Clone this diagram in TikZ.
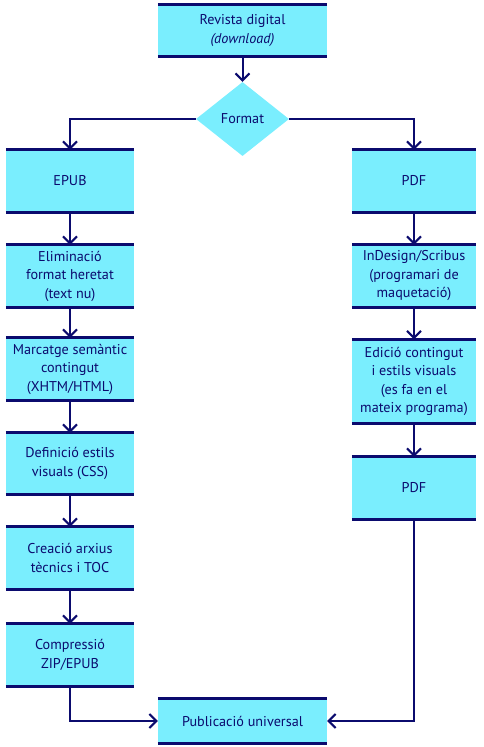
\documentclass[tikz,border=0pt]{standalone}
\usepackage{fontspec}
\setmainfont{PT Sans}
\usetikzlibrary{shapes.geometric,arrows.meta}
\definecolor{navy}{HTML}{0B0B6E}
\definecolor{boxfill}{HTML}{7AEEFE}
\tikzset{
  x=1pt, y=-1pt,
  box/.style={fill=boxfill, inner sep=0pt, align=center, text=navy,
    font=\fontsize{14.2}{18.5}\selectfont,
    append after command={(\tikzlastnode.north west) edge[line width=3pt, draw=navy] (\tikzlastnode.north east)
      (\tikzlastnode.south west) edge[line width=3pt, draw=navy] (\tikzlastnode.south east)}},
  lbox/.style={box, minimum width=128pt, minimum height=62pt},
  rbox/.style={box, minimum width=124pt, minimum height=62pt},
  conn/.style={draw=navy, line width=2pt, -{Straight Barb[length=7pt,width=14pt,line width=2pt]}},
  dia/.style={diamond, fill=boxfill, inner sep=0pt, text=navy,
    minimum width=93pt, minimum height=74pt, font=\fontsize{14.2}{18.5}\selectfont}
}
\begin{document}
\begin{tikzpicture}
\useasboundingbox (0,0) rectangle (484,747);
\node[box, minimum width=169pt, minimum height=51pt] (top) at (242.5,30.5) {Revista digital\\\textit{(download)}};
\node[dia] (fmt) at (242.5,119) {Format};
\node[lbox] (epub) at (70,181) {EPUB};
\node[lbox] (elim) at (70,276) {Eliminació\\format heretat\\(text nu)};
\node[lbox] (marc) at (70,369) {Marcatge semàntic\\contingut\\(XHTM/HTML)};
\node[lbox, minimum height=61pt] (defi) at (70,463.5) {Definició estils\\visuals (CSS)};
\node[lbox] (crea) at (70,558) {Creació arxius\\tècnics i TOC};
\node[lbox] (comp) at (70,655) {Compressió\\ZIP/EPUB};
\node[rbox] (pdf) at (414,181) {PDF};
\node[rbox] (indes) at (414,276) {InDesign/Scribus\\(programari de\\maquetació)};
\node[rbox, minimum height=84pt] (edic) at (414,381.5) {Edició contingut\\i estils visuals\\(es fa en el\\mateix programa)};
\node[rbox] (pdf2) at (414,488) {PDF};
\node[box, minimum width=169pt, minimum height=44pt] (pub) at (242.5,721) {Publicació universal};
\draw[conn] (top.south) -- (fmt.north);
\draw[conn] (fmt.west) -| (epub.north);
\draw[conn] (fmt.east) -| (pdf.north);
\draw[conn] (epub) -- (elim);
\draw[conn] (elim) -- (marc);
\draw[conn] (marc) -- (defi);
\draw[conn] (defi) -- (crea);
\draw[conn] (crea) -- (comp);
\draw[conn] (pdf) -- (indes);
\draw[conn] (indes) -- (edic);
\draw[conn] (edic) -- (pdf2);
\draw[conn] (comp.south) |- (pub.west);
\draw[conn] (pdf2.south) |- (pub.east);
\end{tikzpicture}
\end{document}
